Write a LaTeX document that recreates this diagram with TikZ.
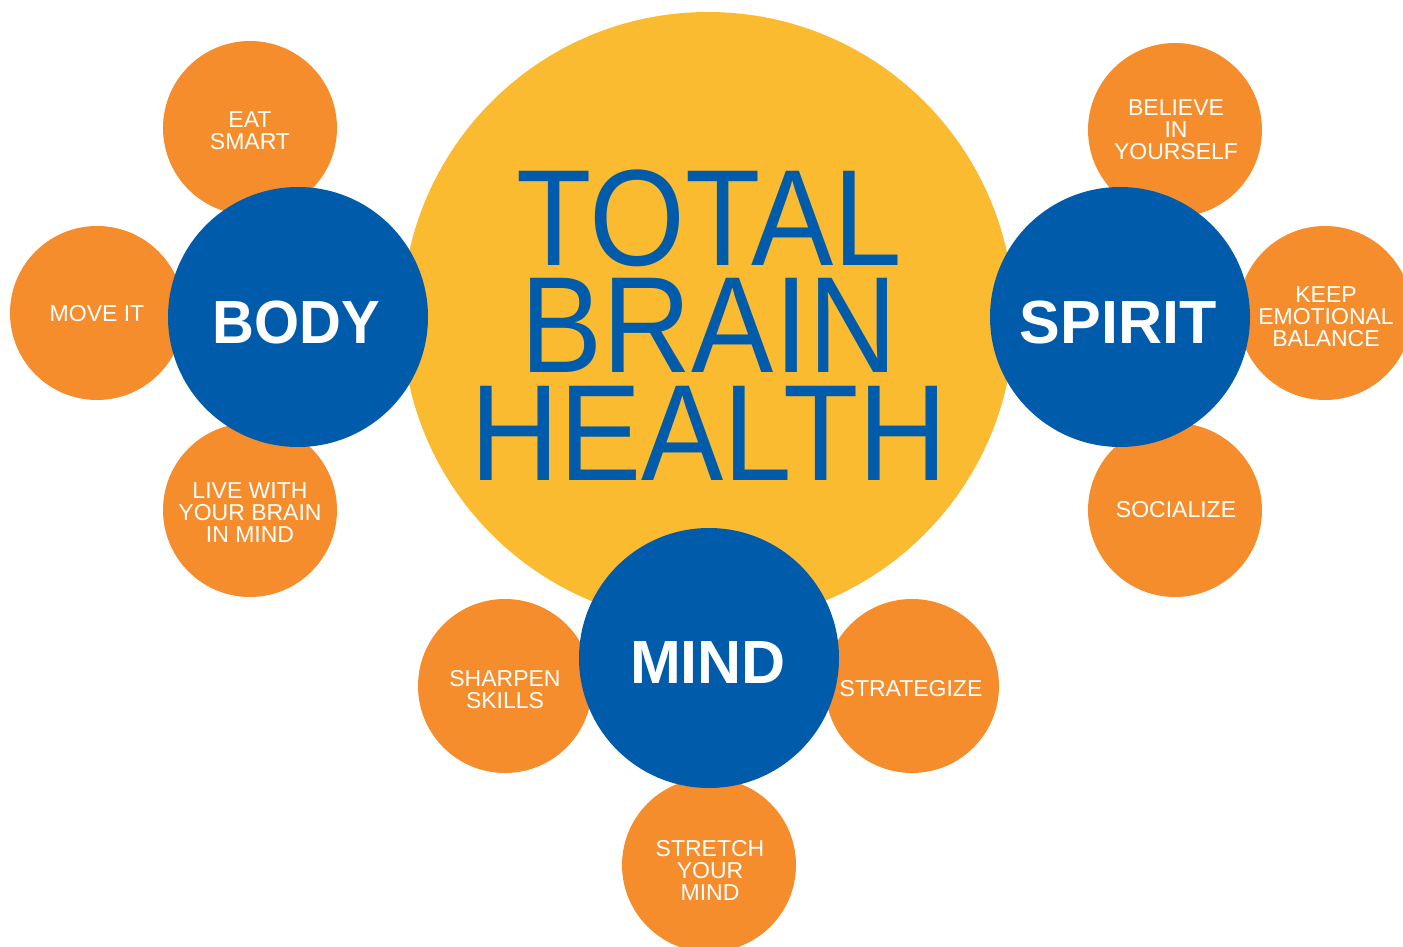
\documentclass[tikz,border=0pt]{standalone}
\usepackage{fontspec}
\setmainfont{Liberation Sans}
\definecolor{tbyellow}{HTML}{FBBB30}
\definecolor{tborange}{HTML}{F58D2D}
\definecolor{tbblue}{HTML}{005BAA}
\begin{document}
\begin{tikzpicture}[x=1pt,y=-1pt,
  bigc/.style={circle,fill=tbyellow,minimum size=612pt,inner sep=0pt},
  hubc/.style={circle,fill=tbblue,minimum size=260pt,inner sep=0pt},
  leafc/.style={circle,fill=tborange,minimum size=174pt,inner sep=0pt},
  hubtxt/.style={text=white,inner sep=0pt,anchor=base,font=\fontsize{61}{61}\selectfont\bfseries},
  leaftxt/.style={text=white,inner sep=0pt,align=center,font=\fontsize{23}{22}\selectfont},
  titletxt/.style={text=tbblue,inner sep=0pt,anchor=base}]
\useasboundingbox (0,0) rectangle (1403,947);
\clip (0,0) rectangle (1403,947);
% central circle
\node[bigc] (total) at (708,318) {};
% leaf circles
\node[leafc] (eat) at (250,128) {};
\node[leafc] (move) at (97,313) {};
\node[leafc] (live) at (250,510) {};
\node[leafc] (believe) at (1175,130) {};
\node[leafc] (keep) at (1325,313) {};
\node[leafc] (social) at (1175,510) {};
\node[leafc] (sharpen) at (505,686) {};
\node[leafc] (strat) at (912,686) {};
\node[leafc] (stretch) at (709,865) {};
% hub circles
\node[hubc] (body) at (298,317) {};
\node[hubc] (spirit) at (1120,317) {};
\node[hubc] (mind) at (709,658) {};
% title
\node[titletxt] (title) at (709,265) {\scalebox{0.9}[1]{\parbox[t]{600pt}{\centering\fontsize{137}{107.5}\selectfont TOTAL\\BRAIN\\HEALTH}}};
% hub labels
\node[hubtxt] (bodyl) at (296,343) {\scalebox{0.95}[1]{BODY}};
\node[hubtxt] (spiritl) at (1118,343) {SPIRIT};
\node[hubtxt] (mindl) at (708,683) {MIND};
% leaf labels
\node[leaftxt] (eatl) at (250,131) {EAT\\SMART};
\node[leaftxt] (movel) at (97,314) {MOVE IT};
\node[leaftxt] (livel) at (250,513) {LIVE WITH\\YOUR BRAIN\\IN MIND};
\node[leaftxt] (believel) at (1176,130) {BELIEVE\\IN\\YOURSELF};
\node[leaftxt] (keepl) at (1326,317) {KEEP\\EMOTIONAL\\BALANCE};
\node[leaftxt] (sociall) at (1176,510) {SOCIALIZE};
\node[leaftxt] (sharpenl) at (505,690) {SHARPEN\\SKILLS};
\node[leaftxt] (stratl) at (911,689) {STRATEGIZE};
\node[leaftxt] (stretchl) at (710,870) {STRETCH\\YOUR\\MIND};
\end{tikzpicture}
\end{document}
